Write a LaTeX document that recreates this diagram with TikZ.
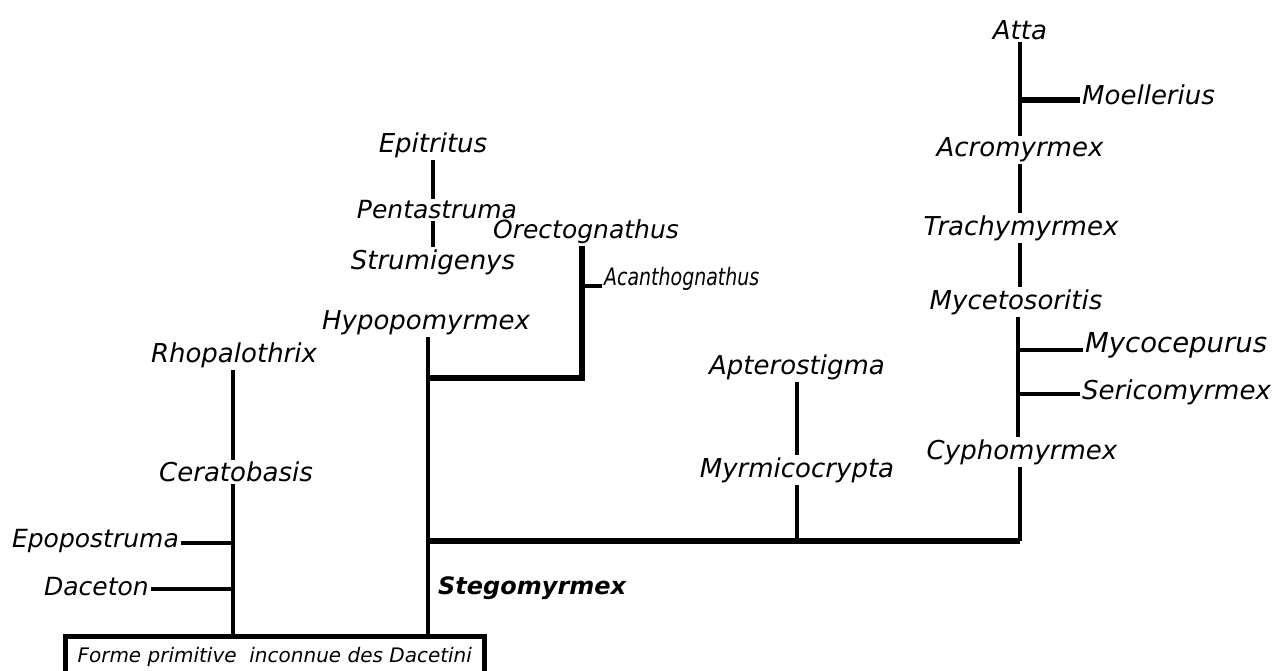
\documentclass[tikz,border=0pt]{standalone}
\usepackage{graphicx}
\usepackage{fontspec}
\setmainfont{DejaVu Sans}
\begin{document}
\begin{tikzpicture}[x=1pt,y=-1pt,
  lab/.style={font=\fontsize{26}{30}\selectfont\itshape, inner sep=2pt},
  midlab/.style={font=\fontsize{25}{29}\selectfont\itshape, inner sep=2pt},
  condlab/.style={font=\fontsize{24}{28}\selectfont\itshape, inner sep=2pt},
  boldlab/.style={font=\fontsize{24}{28}\selectfont\bfseries\itshape, inner sep=2pt},
  br/.style={line width=4.5pt},
  thinbr/.style={line width=3.5pt},
  thickbr/.style={line width=6pt}]
\useasboundingbox (0,0) rectangle (1280,671);
\clip (0,0) rectangle (1280,671);
% Attini clade (right)
\node[lab] (atta) at (1020,30) {Atta};
\node[lab,anchor=west] (moel) at (1080,95) {Moellerius};
\node[lab] (acro) at (1020,150) {Acromyrmex};
\node[lab] (trachy) at (1021,228) {Trachymyrmex};
\node[lab] (myceto) at (1016,302) {Mycetosoritis};
\node[lab,anchor=west,font=\fontsize{27.5}{31}\selectfont\itshape] (mycoc) at (1083,345) {Mycocepurus};
\node[lab,anchor=west] (seric) at (1080,392) {Sericomyrmex};
\node[lab] (cypho) at (1022,452) {Cyphomyrmex};
\node[lab] (aptero) at (797,367) {Apterostigma};
\node[lab] (myrmi) at (797,470) {Myrmicocrypta};
% Strumigenys group
\node[lab] (epit) at (433,145) {Epitritus};
\node[midlab] (penta) at (437,210) {Pentastruma};
\node[midlab] (orect) at (586,232) {Orectognathus};
\node[lab] (strum) at (433,262) {Strumigenys};
\node[condlab,anchor=west] (acan) at (602,279) {\scalebox{0.79}[1]{Acanthognathus}};
\node[lab] (hypo) at (426,323) {Hypopomyrmex};
% Left group
\node[lab] (rhopa) at (234,355) {Rhopalothrix};
\node[lab] (cerato) at (236,472) {Ceratobasis};
\node[midlab,anchor=east] (epopo) at (181,541) {Epopostruma};
\node[midlab,anchor=east] (dacet) at (151,587) {Daceton};
\node[boldlab,anchor=west] (steg) at (436,588) {Stegomyrmex};
% Root box
\node[draw,line width=4.5pt,anchor=north west,minimum width=419pt,
      text height=20pt,text depth=40pt,inner ysep=6pt,
      font=\fontsize{20}{24}\selectfont\itshape] (root) at (63,634)
      {Forme primitive\ \ inconnue des Dacetini};
% junction coordinates
\coordinate (jmoel) at (1020,100);
\coordinate (jmycoc) at (1018,350);
\coordinate (jseric) at (1018,394);
\coordinate (jmain) at (428,541);
\coordinate (jorect) at (428,378);
\coordinate (jacan) at (582,286);
\coordinate (jepopo) at (233,543);
\coordinate (jdacet) at (233,589);
% connectors right
\draw[br] (atta) -- (atta |- acro.north);
\draw[thickbr] (jmoel) -- (jmoel -| moel.west);
\draw[br] (acro) -- (acro |- trachy.north);
\draw[br] (trachy.south -| jmoel) -- (jmoel |- myceto.north);
\draw[br] (myceto.south -| jmycoc) -- (jmycoc |- cypho.north);
\draw[br] (jmycoc) -- (jmycoc -| mycoc.west);
\draw[br] (jseric) -- (jseric -| seric.west);
\draw[br] (cypho.south -| jmoel) -- (jmoel |- jmain);
\draw[thinbr] (aptero) -- (aptero |- myrmi.north);
\draw[br] (myrmi) -- (myrmi |- jmain);
\draw[thickbr] (jmain) -- (jmain -| jmoel);
% connectors middle
\draw[br] (epit) -- (epit |- penta.north);
\draw[br] (epit.south |- penta.south) -- (epit.south |- strum.north);
\draw[br] (hypo.south -| jmain) -- (jmain |- root.north);
\draw[thickbr] (jorect) -| (jacan |- orect.south);
\draw[br] (jacan) -- (jacan -| acan.west);
% connectors left
\draw[br] (rhopa.south -| jepopo) -- (jepopo |- cerato.north);
\draw[br] (cerato.south -| jepopo) -- (jepopo |- root.north);
\draw[br] (jepopo) -- (epopo.east |- jepopo);
\draw[br] (jdacet) -- (dacet.east |- jdacet);
\end{tikzpicture}
\end{document}
